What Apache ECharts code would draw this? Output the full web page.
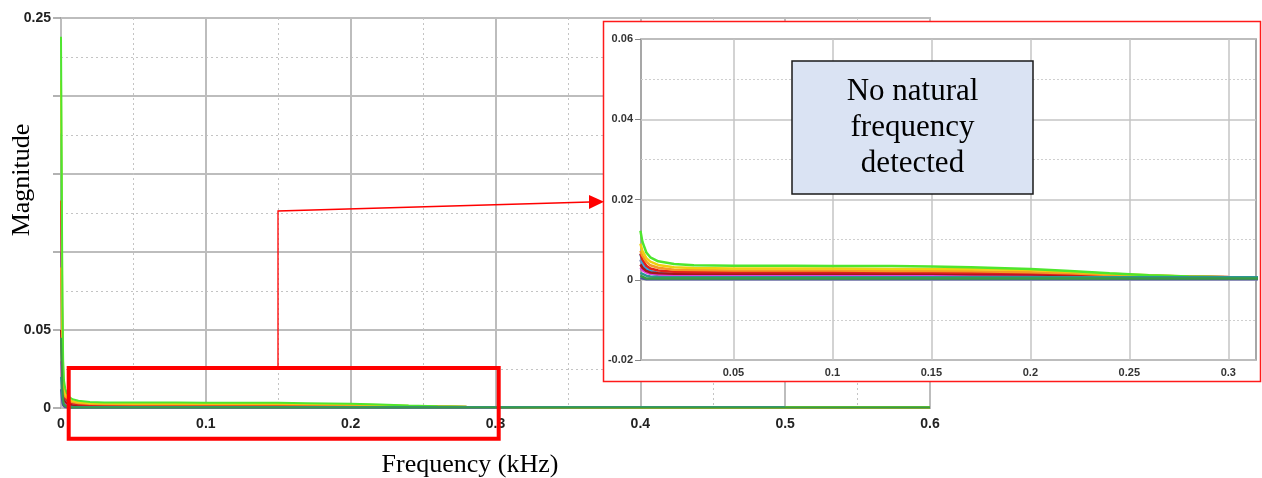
<!DOCTYPE html>
<html>
<head>
<meta charset="utf-8">
<script src="https://cdn.jsdelivr.net/npm/echarts@6/dist/echarts.min.js"></script>
<style>
html,body{margin:0;padding:0;background:#fff;}
#chart{width:1262px;height:478px;}
</style>
</head>
<body>
<div id="chart"></div>
<script>
// ---- data ----
const freq = [0, 0.0005, 0.001, 0.0015, 0.002, 0.003, 0.004, 0.006, 0.008, 0.012, 0.02, 0.03, 0.05, 0.08, 0.1, 0.13, 0.15, 0.17, 0.2, 0.22, 0.24, 0.26, 0.28, 0.3, 0.33, 0.4, 0.5, 0.6];

const magNavy     = [0.012, 0.007, 0.003, 0.0015, 0.0008, 0.0004, 0.0002, 0.0001, 0.0001, 0.0001, 0.0001, 0.0001, 0.0001, 0.0001, 0.0001, 0.0001, 0.0001, 0.0001, 0.0001, 0.0001, 0.0001, 0.0001, 0.0001, 0.0001, 0.0001, 0.0001, 0.0001, 0.0001];
const magSlate    = [0.1, 0.065, 0.03, 0.014, 0.008, 0.005, 0.0035, 0.0022, 0.0016, 0.0012, 0.001, 0.0009, 0.0009, 0.0009, 0.0009, 0.0009, 0.0009, 0.0008, 0.0008, 0.0008, 0.0007, 0.0006, 0.0006, 0.0005, 0.0005, 0.0004, 0.0004, 0.0004];
const magCyan     = [0.176, 0.11, 0.048, 0.021, 0.011, 0.0065, 0.0045, 0.003, 0.0022, 0.0017, 0.0013, 0.0012, 0.0011, 0.0011, 0.0011, 0.001, 0.001, 0.001, 0.0009, 0.0009, 0.0008, 0.0007, 0.0006, 0.0006, 0.0005, 0.0004, 0.0004, 0.0004];
const magMagenta  = [0.03, 0.02, 0.01, 0.006, 0.004, 0.003, 0.0024, 0.0018, 0.0015, 0.0013, 0.0012, 0.0012, 0.0012, 0.0012, 0.0012, 0.0012, 0.0012, 0.0011, 0.0011, 0.001, 0.0009, 0.0008, 0.0007, 0.0006, 0.0005, 0.0004, 0.0004, 0.0004];
const magDarkRed  = [0.05, 0.033, 0.016, 0.008, 0.005, 0.0038, 0.003, 0.0022, 0.0018, 0.0016, 0.0015, 0.0015, 0.0015, 0.0015, 0.0015, 0.0015, 0.0015, 0.0014, 0.0013, 0.0012, 0.001, 0.0008, 0.0007, 0.0006, 0.0005, 0.0004, 0.0004, 0.0004];
const magRed      = [0.133, 0.085, 0.038, 0.017, 0.01, 0.0065, 0.005, 0.0035, 0.0028, 0.0023, 0.002, 0.0019, 0.0019, 0.0019, 0.0019, 0.0019, 0.0018, 0.0017, 0.0016, 0.0014, 0.0012, 0.001, 0.0008, 0.0007, 0.0006, 0.0004, 0.0004, 0.0004];
const magOrange   = [0.09, 0.06, 0.028, 0.014, 0.009, 0.0072, 0.006, 0.0045, 0.0036, 0.003, 0.0025, 0.0024, 0.0023, 0.0023, 0.0023, 0.0022, 0.0022, 0.0021, 0.0019, 0.0016, 0.0012, 0.0009, 0.0007, 0.0006, 0.0005, 0.0004, 0.0004, 0.0004];
const magYellow   = [0.21, 0.13, 0.055, 0.025, 0.014, 0.009, 0.0072, 0.0054, 0.0045, 0.0037, 0.0031, 0.0029, 0.0028, 0.0028, 0.0028, 0.0027, 0.0027, 0.0026, 0.0024, 0.002, 0.0015, 0.0011, 0.0008, 0.0006, 0.0005, 0.0004, 0.0004, 0.0004];
const magGreen    = [0.238, 0.15, 0.065, 0.03, 0.018, 0.0122, 0.0095, 0.0068, 0.0056, 0.0046, 0.0039, 0.0036, 0.0035, 0.0035, 0.0034, 0.0034, 0.0033, 0.0031, 0.0027, 0.0022, 0.0016, 0.0011, 0.0008, 0.0006, 0.0005, 0.0005, 0.0005, 0.0005];
const magTeal     = [0.02, 0.014, 0.007, 0.004, 0.0025, 0.0017, 0.0013, 0.001, 0.0008, 0.0007, 0.0006, 0.0006, 0.0006, 0.0006, 0.0006, 0.0006, 0.0006, 0.0006, 0.0006, 0.0006, 0.0006, 0.0006, 0.0006, 0.0006, 0.0006, 0.0006, 0.0006, null];
const magDarkGreen= [0.045, 0.028, 0.012, 0.005, 0.002, 0.001, 0.0006, 0.0003, 0.0003, 0.0003, 0.0003, 0.0003, 0.0003, 0.0003, 0.0003, 0.0003, 0.0003, 0.0003, 0.0003, 0.0003, 0.0003, 0.0003, 0.0003, 0.0003, 0.0003, 0.0003, 0.0003, 0.0003];

const seriesNames = ['s1','s2','s3','s4','s5','s6','s7','s8','s9','s10','s11'];
const seriesValues = [magNavy, magSlate, magCyan, magMagenta, magDarkRed, magRed, magOrange, magYellow, magGreen, magTeal, magDarkGreen];

// tick labels
const mainYShownLabels = [0, 0.05, 0.25];
const insetXLabels = [0.05, 0.1, 0.15, 0.2, 0.25, 0.3];
const insetXMinor = [0.025, 0.075, 0.125, 0.175, 0.225, 0.275];
const insetXRange = [0.0033, 0.314];

// ---- styles ----
const seriesColors = ['#4b4fa0','#7a86b8','#2aa8e8','#e040e0','#a5161a','#e0201c','#f59a23','#f0cf10','#4ee62e','#2e9595','#3a9a45'];
const sansFont = '"Liberation Sans", Arial, sans-serif';
const serifFont = '"Liberation Serif", "Times New Roman", serif';

const chart = echarts.init(document.getElementById('chart'), null, {renderer: 'canvas'});

function pairs(vals) { return freq.map((f, i) => [f, vals[i]]); }
// inset only needs the samples from the last one at/left of its x-range start
function insetPairs(vals) { return pairs(vals).filter(p => p[0] >= 0.003); }

const series = [];
seriesValues.forEach((vals, k) => {
  series.push({
    name: seriesNames[k], type: 'line', xAxisIndex: 0, yAxisIndex: 0,
    data: pairs(vals), showSymbol: false, symbol: 'none', z: 2,
    lineStyle: {color: seriesColors[k], width: 2}, itemStyle: {color: seriesColors[k]},
    connectNulls: false, clip: true, animation: false, silent: true
  });
});
// inset minor vertical grid lines
series.push({
  name: 'insetMinor', type: 'line', xAxisIndex: 1, yAxisIndex: 1, data: [], z: 7, silent: true, animation: false,
  markLine: {
    silent: true, symbol: ['none','none'], label: {show: false}, animation: false,
    lineStyle: {color: '#cfcfcf', type: [2, 2], width: 1},
    emphasis: {disabled: true},
    data: insetXMinor.map(v => ({xAxis: v}))
  }
});
seriesValues.forEach((vals, k) => {
  series.push({
    name: seriesNames[k] + 'i', type: 'line', xAxisIndex: 1, yAxisIndex: 1,
    data: insetPairs(vals), showSymbol: false, symbol: 'none', z: 8,
    lineStyle: {color: seriesColors[k], width: 2.5}, itemStyle: {color: seriesColors[k]},
    connectNulls: false, clip: true, animation: false, silent: true
  });
});

const option = {
  animation: false,
  backgroundColor: '#fff',
  grid: [
    {left: 61, top: 18, width: 869, height: 390, show: true, borderColor: '#8a8a8a', borderWidth: 1.5, backgroundColor: '#fff', z: 0},
    {left: 641, top: 39, width: 615, height: 321, show: true, borderColor: '#8a8a8a', borderWidth: 1.5, backgroundColor: '#fff', z: 6}
  ],
  xAxis: [
    {
      type: 'value', gridIndex: 0, min: 0, max: 0.6, interval: 0.1, z: 0,
      axisLine: {show: false}, axisTick: {show: false},
      axisLabel: {fontFamily: sansFont, fontWeight: 'bold', fontSize: 14, color: '#222', margin: 9},
      splitLine: {show: true, lineStyle: {color: '#bdbdbd', width: 2}},
      minorTick: {show: false, splitNumber: 2},
      minorSplitLine: {show: true, lineStyle: {color: '#c4c4c4', type: [2, 3], width: 1}}
    },
    {
      type: 'value', gridIndex: 1, min: insetXRange[0], max: insetXRange[1], z: 7,
      axisLine: {show: false},
      axisTick: {show: false, customValues: insetXLabels},
      axisLabel: {customValues: insetXLabels, fontFamily: sansFont, fontWeight: 'bold', fontSize: 11, color: '#333', margin: 7},
      splitLine: {show: true, lineStyle: {color: '#c4c4c4', width: 1.5}}
    }
  ],
  yAxis: [
    {
      type: 'value', gridIndex: 0, min: 0, max: 0.25, interval: 0.05, z: 0,
      axisLine: {show: false},
      axisTick: {show: true, inside: false, length: 8, lineStyle: {color: '#999', width: 1.5}},
      axisLabel: {
        fontFamily: sansFont, fontWeight: 'bold', fontSize: 14, color: '#222', margin: 10,
        formatter: v => mainYShownLabels.some(s => Math.abs(s - v) < 1e-9) ? String(+v.toFixed(4)) : ''
      },
      splitLine: {show: true, lineStyle: {color: '#bdbdbd', width: 2}},
      minorTick: {show: false, splitNumber: 2},
      minorSplitLine: {show: true, lineStyle: {color: '#c4c4c4', type: [2, 3], width: 1}}
    },
    {
      type: 'value', gridIndex: 1, min: -0.02, max: 0.06, interval: 0.02, z: 7,
      axisLine: {show: false},
      axisTick: {show: true, inside: false, length: 6, lineStyle: {color: '#888', width: 1}},
      axisLabel: {fontFamily: sansFont, fontWeight: 'bold', fontSize: 11, color: '#333', margin: 8},
      splitLine: {show: true, lineStyle: {color: '#c4c4c4', width: 1.5}},
      minorTick: {show: false, splitNumber: 2},
      minorSplitLine: {show: true, lineStyle: {color: '#cfcfcf', type: [2, 2], width: 1}}
    }
  ],
  series: series,
  graphic: {
    elements: [
      {type: 'rect', z: 5, silent: true, shape: {x: 603.5, y: 21.5, width: 657, height: 360}, style: {fill: '#fff', stroke: '#ff1a1a', lineWidth: 1.5}},
      {type: 'rect', z: 20, silent: true, shape: {x: 68.7, y: 368, width: 430, height: 70.7}, style: {fill: 'transparent', stroke: '#ff0000', lineWidth: 4}},
      {type: 'polyline', z: 20, silent: true, shape: {points: [[278, 366], [278, 211], [590, 202]]}, style: {fill: null, stroke: '#ff0000', lineWidth: 1.3}},
      {type: 'polygon', z: 20, silent: true, shape: {points: [[589, 195], [604, 201.7], [589, 209]]}, style: {fill: '#ff0000'}},
      {type: 'rect', z: 20, silent: true, shape: {x: 792, y: 61, width: 241, height: 133}, style: {fill: '#dae3f3', stroke: '#1a1a1a', lineWidth: 1.5}},
      {type: 'text', z: 21, silent: true, x: 912.5, y: 127.5,
        style: {text: 'No natural\nfrequency\ndetected', fontSize: 31, fontFamily: serifFont, lineHeight: 36, fill: '#000', align: 'center', verticalAlign: 'middle'}},
      {type: 'text', z: 21, silent: true, x: 22, y: 180, rotation: Math.PI / 2,
        style: {text: 'Magnitude', fontSize: 26, fontFamily: serifFont, fill: '#000', align: 'center', verticalAlign: 'middle'}},
      {type: 'text', z: 21, silent: true, x: 470, y: 465,
        style: {text: 'Frequency (kHz)', fontSize: 26, fontFamily: serifFont, fill: '#000', align: 'center', verticalAlign: 'middle'}}
    ]
  }
};
chart.setOption(option);
</script>
</body>
</html>
